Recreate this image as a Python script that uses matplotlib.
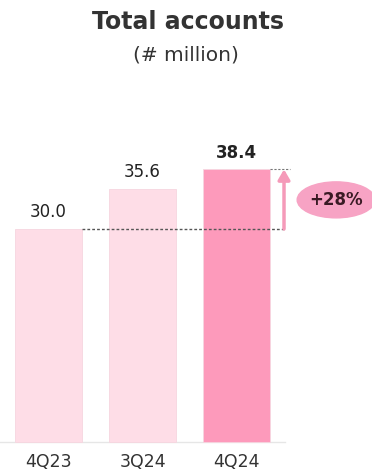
import matplotlib.pyplot as plt
from matplotlib.patches import Ellipse

quarters = ["4Q23", "3Q24", "4Q24"]
accounts = [30.0, 35.6, 38.4]
growth_label = "+28%"

light_pink = "#fedde7"
strong_pink = "#fd9abb"

plt.rcParams["font.family"] = ["DejaVu Sans"]

fig = plt.figure(figsize=(3.72, 4.73), dpi=100)
ax = fig.add_axes([0, 0, 1, 1])
ax.set_xlim(-0.516, 3.441)
ax.set_ylim(-4.37, 62.25)
ax.axis("off")

xs = range(len(quarters))
colors = [light_pink, light_pink, strong_pink]
ax.bar(xs, accounts, width=0.71, color=colors, edgecolor="#f6d6e0", linewidth=0.6, zorder=2)

# baseline under the bars
ax.plot([-0.516, 2.516], [0, 0], color="#e6e6e6", lw=1, zorder=1)

for i, (q, v) in enumerate(zip(quarters, accounts)):
    weight = "bold" if i == len(accounts) - 1 else "normal"
    ax.text(i, v + 1.1, f"{v:.1f}", ha="center", va="bottom", fontsize=12,
            fontweight=weight, color="#222222")
    ax.text(i, -2.8, q, ha="center", va="center", fontsize=12.5, color="#333333")

# dashed reference lines for first and last value
ax.plot([0.356, 2.52], [accounts[0], accounts[0]], ls=(0, (2, 1.5)), color="#555555", lw=1, zorder=3)
ax.plot([2.356, 2.57], [accounts[-1], accounts[-1]], ls=(0, (2, 1.5)), color="#777777", lw=0.8, zorder=3)

# growth arrow
ax.annotate("", xy=(2.505, accounts[-1]), xytext=(2.505, accounts[0]),
            arrowprops=dict(arrowstyle="-|>,head_width=0.35,head_length=0.6",
                            color="#f59ab9", lw=2.5, shrinkA=0, shrinkB=0), zorder=4)

ax.add_patch(Ellipse((3.06, 34.1), 0.83, 5.07, color="#f7a3c4", zorder=4))
ax.text(3.06, 34.1, growth_label, ha="center", va="center", fontsize=12,
        fontweight="bold", color="#3a1a24", zorder=5)

fig.text(0.505, 0.953, "Total accounts", ha="center", va="center", fontsize=17,
         fontweight="bold", color="#333333")
fig.text(0.5, 0.884, "(# million)", ha="center", va="center", fontsize=14.5, color="#333333")

fig.savefig("out.png", dpi=100)
